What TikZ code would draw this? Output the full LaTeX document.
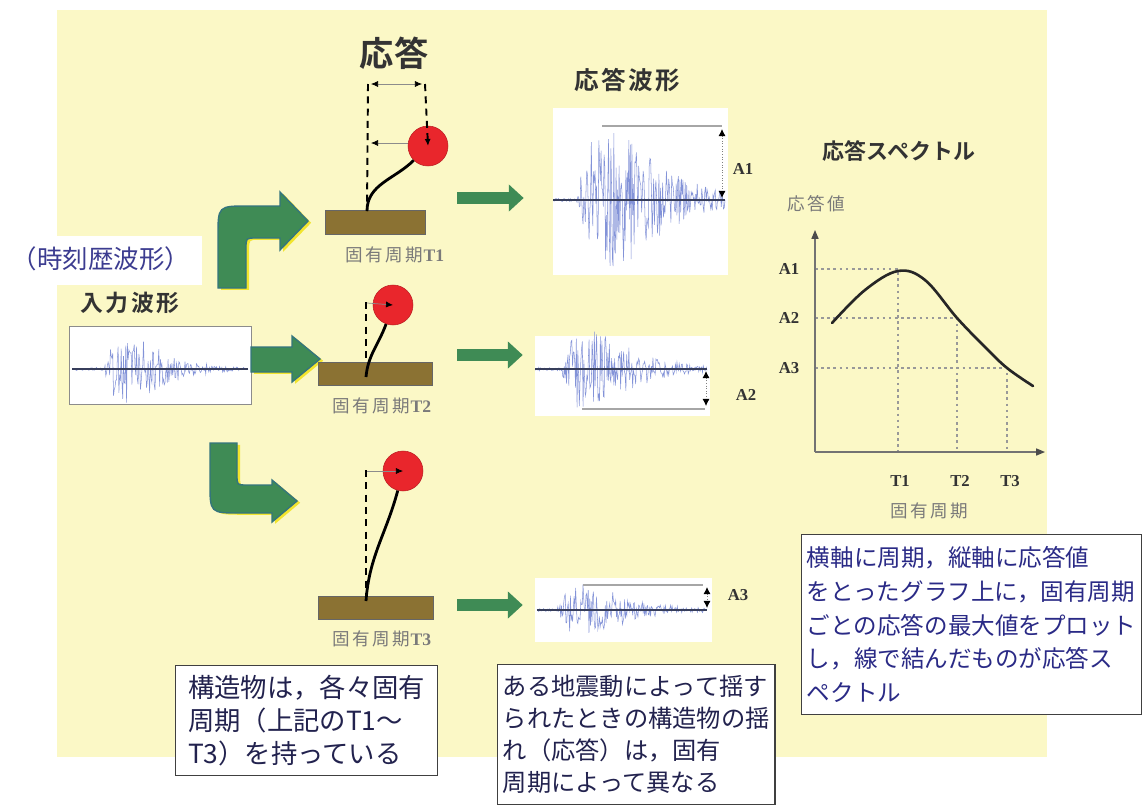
\documentclass[tikz,border=0pt]{standalone}
\usepackage{fontspec}
\setmainfont{Liberation Serif}
\newfontfamily\jp{Noto Sans CJK JP}
\newfontfamily\jpwide{Noto Sans CJK JP}[LetterSpace=14]
\newfontfamily\jpb{Noto Sans CJK JP Bold}
\newfontfamily\jpbwide{Noto Sans CJK JP Bold}[LetterSpace=10]
\usepackage{tikz}
\usetikzlibrary{arrows.meta}
\definecolor{cream}{HTML}{FBF8C6}
\definecolor{leaf}{HTML}{3F8B55}
\definecolor{leafedge}{HTML}{2F6C8E}
\definecolor{glow}{HTML}{F2E52E}
\definecolor{mud}{HTML}{8B7233}
\definecolor{bob}{HTML}{E9262C}
\definecolor{quakeblue}{HTML}{8393D8}
\definecolor{ink}{HTML}{22224E}
\definecolor{blueink}{HTML}{2A2A86}
\definecolor{purpleink}{HTML}{3C3C90}
\definecolor{greytxt}{HTML}{7A7A7A}

%trace: from, to, zero line, onset, amplitude, rise
\newcommand{\quake}[6]{%
\draw[quakeblue,line width=.3pt] plot[domain=#1:#2,samples=230]
 (\x,{#3+1.5*rand-#5*max(\x-#4,0)/#6*exp(1-max(\x-#4,0)/#6)*rand});
\draw[zeroline] (#1,#3) -- (#2,#3);}

\begin{document}
\begin{tikzpicture}[x=0.02cm,y=-0.02cm,every node/.style={inner sep=0pt},
 ttl/.style={font=\jpb\fontsize{12.5}{14}\selectfont,text=black!80},
 lbl/.style={font=\jpwide\fontsize{10}{11}\selectfont,text=greytxt},
 tag/.style={font=\bfseries\fontsize{9.5}{10}\selectfont,text=black!80},
 base/.style={draw=black!60,fill=mud,line width=.5pt},
 ball/.style={circle,fill=bob,draw=bob!80!black,line width=.3pt,minimum size=0.8cm},
 stem/.style={line width=1.6pt,black},
 guide/.style={dash pattern=on 4pt off 3pt,line width=1.1pt,black},
 pointer/.style={line width=.4pt,black!45,-{Latex[length=4pt,width=3.5pt,black]}},
 gap/.style={line width=.4pt,black!45,{Latex[length=4pt,width=3.5pt,black]}-{Latex[length=4pt,width=3.5pt,black]}},
 panel/.style={fill=white},
 zeroline/.style={line width=.8pt,black!40!quakeblue!70!black},
 reach/.style={line width=.6pt,black!35},
 span/.style={densely dotted,line width=.5pt,black!50,{Latex[length=4pt,width=4pt,black]}-{Latex[length=4pt,width=4pt,black]}},
 flow/.style={leaf,line width=6.8pt,-{Triangle[length=8.5pt,width=15pt]}},
 bigarrow/.style={fill=leaf,draw=leafedge!70!leaf,line width=.8pt},
 halo/.style={fill=glow,xshift=1.8pt,yshift=-1pt},
 axis/.style={line width=.7pt,black!55,-{Triangle[length=5pt,width=4pt,black!70]}},
 grid/.style={dash pattern=on 1.5pt off 2pt,line width=.6pt,black!40},
 note/.style={draw=black!75,fill=white,line width=.8pt,align=left,anchor=north west,
  inner xsep=3pt,inner ysep=4pt,text=ink}]
\useasboundingbox (0,0) rectangle (1142,805);
\fill[cream] (57,10) rectangle (1047,757);

%input wave
\node[fill=white,minimum width=4.04cm,minimum height=0.98cm] (hist) at (101,260) {};
\node[font=\jp\fontsize{14.5}{16}\selectfont,text=purpleink] at (101,259) {（時刻歴波形）};
\node[ttl,font=\jpbwide\fontsize{13}{14}\selectfont] (intitle) at (130,303) {入力波形};
\node[panel,draw=black!45,line width=.5pt,minimum width=3.64cm,minimum height=1.56cm] (input) at (160,365) {};
\pgfmathsetseed{11}
\quake{72}{248}{369}{104}{34}{22}

%big arrows
\fill[halo] (218,288) -- (218,236) .. controls (218,206) .. (248,206) -- (280,206) -- (280,192) -- (308,221) -- (280,250) -- (280,238) -- (256,238) .. controls (246,238) .. (246,248) -- (246,288) -- cycle;
\filldraw[bigarrow] (218,288) -- (218,236) .. controls (218,206) .. (248,206) -- (280,206) -- (280,192) -- (308,221) -- (280,250) -- (280,238) -- (256,238) .. controls (246,238) .. (246,248) -- (246,288) -- cycle;
\fill[halo] (251,347) -- (292,347) -- (292,336) -- (320,359) -- (292,382) -- (292,372) -- (251,372) -- cycle;
\filldraw[bigarrow] (251,347) -- (292,347) -- (292,336) -- (320,359) -- (292,382) -- (292,372) -- (251,372) -- cycle;
\fill[halo] (210,443) -- (210,483) .. controls (210,513) .. (240,513) -- (272,513) -- (272,522) -- (297,501) -- (272,480) -- (272,485) -- (247,485) .. controls (237,485) .. (237,475) -- (237,443) -- cycle;
\filldraw[bigarrow] (210,443) -- (210,483) .. controls (210,513) .. (240,513) -- (272,513) -- (272,522) -- (297,501) -- (272,480) -- (272,485) -- (247,485) .. controls (237,485) .. (237,475) -- (237,443) -- cycle;

%structures
\node[ttl,font=\jpb\fontsize{19.5}{21}\selectfont] (resp) at (394,53) {応答};
\node[base,minimum width=2cm,minimum height=0.48cm] (base1) at (375.5,222.5) {};
\node[base,minimum width=2.28cm,minimum height=0.46cm] (base2) at (375,373.5) {};
\node[base,minimum width=2.3cm,minimum height=0.46cm] (base3) at (375.5,607.5) {};
\node[lbl] at (395,255) {固有周期{\rmfamily\bfseries T1}};
\node[lbl] at (382,406) {固有周期{\rmfamily\bfseries T2}};
\node[lbl] at (382,639) {固有周期{\rmfamily\bfseries T3}};
\coordinate (foot1) at (367,211);
\coordinate (foot2) at (366,377);
\coordinate (foot3) at (366,601);
\draw[guide] (368,84) -- (foot1);
\draw[guide] (366,302) -- (366,362);
\draw[guide] (366,470) -- (366,596);
\draw[gap] (371,84) -- (422,84);
\draw[pointer] (428,143) -- (371,143);
\node[ball] (ball1) at (428,146) {};
\node[ball] (ball2) at (393,305) {};
\node[ball] (ball3) at (403,471) {};
\draw[guide,-{Latex[length=4pt,width=3.5pt]}] (425,84) -- (ball1.center);
\draw[pointer] (367,303) -- (ball2.center);
\draw[pointer] (367,471) -- (ball3.center);
\draw[stem] (foot1) to[out=90,in=225] (ball1.225);
\draw[stem] (foot2) to[out=85,in=250] (ball2.250);
\draw[stem] (foot3) to[out=86,in=255] (ball3.255);

%response waves
\node[ttl,font=\jpbwide\fontsize{14}{15}\selectfont] (wtitle) at (627,80) {応答波形};
\node[panel,minimum width=3.5cm,minimum height=3.34cm] (wave1) at (640.5,191.5) {};
\node[panel,minimum width=3.5cm,minimum height=1.6cm] (wave2) at (622.5,376) {};
\node[panel,minimum width=3.54cm,minimum height=1.28cm] (wave3) at (623.5,610) {};
\coordinate (f1) at (457,198);
\coordinate (f2) at (457,355);
\coordinate (f3) at (457,605);
\draw[flow,shorten >=16.5pt] (f1) -- (f1 -| wave1.west);
\draw[flow,shorten >=6.8pt] (f2) -- (f2 -| wave2.west);
\draw[flow,shorten >=6.8pt] (f3) -- (f3 -| wave3.west);
\quake{553}{725}{200}{576}{70}{32}
\quake{535}{707}{369}{560}{42}{26}
\quake{537}{707}{610}{556}{27}{25}
\draw[reach] (602,126) -- (722,126);
\draw[span] (722,129) -- (722,198);
\draw[reach] (582,409) -- (705,409);
\draw[span] (706,371) -- (706,406);
\draw[reach] (583,585) -- (703,585);
\draw[span] (707,587) -- (707,608);
\node[tag] at (743,169) {A1};
\node[tag] at (746,395) {A2};
\node[tag] at (738,595) {A3};

%spectrum
\node[ttl] (stitle) at (899,151) {応答スペクトル};
\node[lbl] at (816,204) {応答値};
\coordinate (o) at (815,452);
\draw[grid] (o |- 0,269) -| (898,452);
\draw[grid] (o |- 0,318) -| (957,452);
\draw[grid] (o |- 0,368) -| (1007,452);
\draw[axis] (o) -- (815,230);
\draw[axis] (o) -- (1045,452);
\draw[line width=1.5pt,black!85,line cap=round] plot[smooth,tension=.6] coordinates {(832,323) (865,290) (898,271) (925,280) (957,318) (985,347) (1007,368) (1033,386)};
\node[tag] at (789,269) {A1};
\node[tag] at (789,318) {A2};
\node[tag] at (789,368) {A3};
\node[tag] at (900,481) {T1};
\node[tag] at (960,481) {T2};
\node[tag] at (1010,481) {T3};
\node[lbl] at (929,511) {固有周期};

%notes
\node[note,font=\jp\fontsize{15}{18.6}\selectfont,minimum width=5.24cm,minimum height=2.2cm] (n1) at (175,665) {構造物は，各々固有\\周期（上記のT1～\\T3）を持っている};
\node[note,font=\jp\fontsize{13.8}{18.2}\selectfont,minimum width=5.42cm,minimum height=2.8cm] (n2) at (497,664) {ある地震動によって揺す\\られたときの構造物の揺\\れ（応答）は，固有\\周期によって異なる};
\node[note,font=\jp\fontsize{13.4}{19.2}\selectfont,text=blueink,minimum width=6.78cm,minimum height=3.6cm] (n3) at (801,534) {横軸に周期，縦軸に応答値\\をとったグラフ上に，固有周期\\ごとの応答の最大値をプロット\\し，線で結んだものが応答ス\\ペクトル};
\end{tikzpicture}
\end{document}
